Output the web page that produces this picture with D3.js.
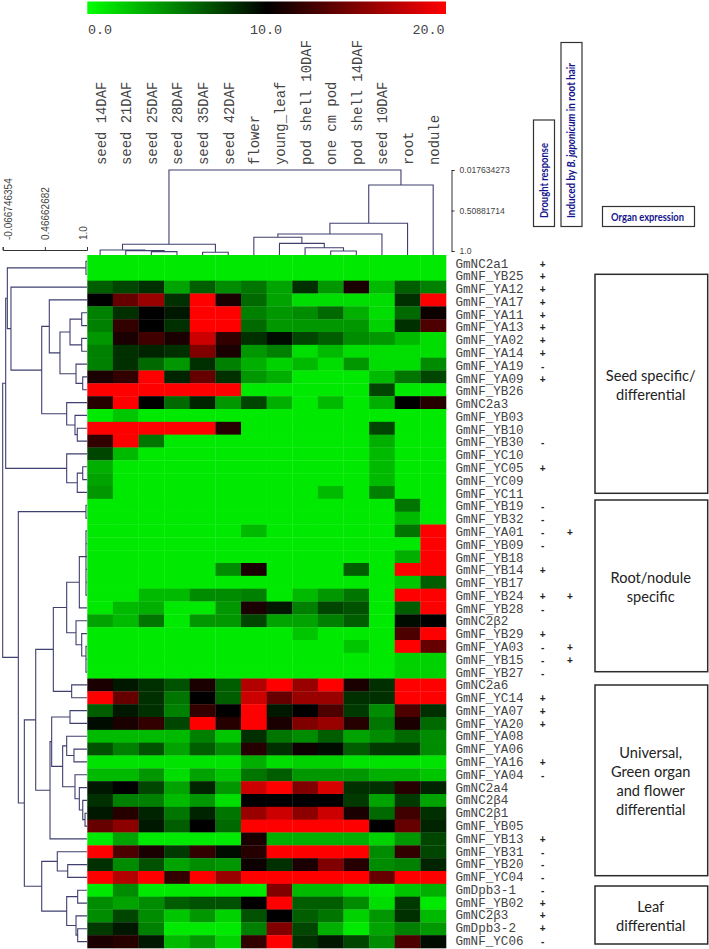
<!DOCTYPE html>
<html>
<head>
<meta charset="utf-8">
<style>
	html, body { margin: 0; padding: 0; background: #fff; }
	svg { display: block; }
	.mono { font-family: "Liberation Mono", monospace; fill: #444; }
	.sans { font-family: "Liberation Sans", sans-serif; fill: #444; }
	.tree { fill: none; stroke: #3f3f70; stroke-width: 1.1; }
	.axis path, .axis line { stroke: #333; fill: none; }
</style>
<script src="https://cdn.jsdelivr.net/npm/d3@7"></script>
</head>
<body>
<div id="chart"></div>
<script>
var colNames = ["seed 14DAF", "seed 21DAF", "seed 25DAF", "seed 28DAF", "seed 35DAF", "seed 42DAF", "flower",
	"young_leaf", "pod shell 10DAF", "one cm pod", "pod shell 14DAF", "seed 10DAF", "root", "nodule"];

var rowNames = ["GmNC2a1", "GmNF_YB25", "GmNF_YA12", "GmNF_YA17", "GmNF_YA11", "GmNF_YA13", "GmNF_YA02", "GmNF_YA14",
	"GmNF_YA19", "GmNF_YA09", "GmNF_YB26", "GmNC2a3", "GmNF_YB03", "GmNF_YB10", "GmNF_YB30", "GmNF_YC10", "GmNF_YC05",
	"GmNF_YC09", "GmNF_YC11", "GmNF_YB19", "GmNF_YB32", "GmNF_YA01", "GmNF_YB09", "GmNF_YB18", "GmNF_YB14", "GmNF_YB17",
	"GmNF_YB24", "GmNF_YB28", "GmNC2β2", "GmNF_YB29", "GmNF_YA03", "GmNF_YB15", "GmNF_YB27", "GmNC2a6", "GmNF_YC14",
	"GmNF_YA07", "GmNF_YA20", "GmNF_YA08", "GmNF_YA06", "GmNF_YA16", "GmNF_YA04", "GmNC2a4", "GmNC2β4", "GmNC2β1",
	"GmNF_YB05", "GmNF_YB13", "GmNF_YB31", "GmNF_YB20", "GmNF_YC04", "GmDpb3-1", "GmNF_YB02", "GmNC2β3", "GmDpb3-2", "GmNF_YC06"];

// one line per gene, same order as colNames
var expression = [
	[0,0,0,0,0,0,0,0,0,0,0,0,0,0],
	[0,0,0,0,0,0,0,0,0,0,0,0,0,0],
	[6,7,8,3,6,4,5,3,8,3.5,11,2,6,4.5],
	[10,14,16,8,20,11,5.5,3,0.5,0.5,0.5,0.5,8,20],
	[4.5,8,10,9,20,20,4.5,3.5,4,5.5,2.5,0.5,5.5,10.5],
	[4.5,12,10,8,20,20,5.5,3.5,3.5,3.5,3.5,1,8,13],
	[3.5,11,12.5,11,18,12,8,9.5,7,6,4,3.5,2,0.5],
	[4.5,8,8.5,8,15,11,3.5,4.5,0.5,2,0.5,0.5,0.5,0.5],
	[4.5,8,5.5,3.5,8,4.5,2.5,1,2,0.5,3.5,0.5,0.5,4],
	[11,12,20,8.5,14,8,3.5,2.5,0,0,0,2,5,7],
	[20,20,20,20,20,20,0,0,0,0,0,7,0,0],
	[11.5,20,10,5.5,8.5,3.5,7,2.5,0,2,0,2.5,10,11.5],
	[0,1.5,0,0,0,0,0,0,0,0,0,0,0,0],
	[20,20,20,20,20,11.5,0,0,0,0,0,7,0,0],
	[12,20,5,0,0,0,0,0,0,0,0,2.5,0,0],
	[7,2,0,0,0,0,0,0,0,0,0,2,0,0],
	[2.5,0,0,0,0,0,0,0,0,0,0,2,0,0],
	[3,0,0,0,0,0,0,0,0,0,0,2,0,0],
	[3.5,0,0,0,0,0,0,0,0,2,0,4.5,0,0],
	[0,0,0,0,0,0,0,0,0,0,0,0,5,0],
	[0,0,0,0,0,0,0,0,0,0,0,0,2,0],
	[0,0,0,0,0,0,2,0,0,0,0,0,5,20],
	[0,0,0,0,0,0,0,0,0,0,0,0,0,20],
	[0,0,0,0,0,0,0,0,0,0,0,0,2.5,20],
	[0,0,0,0,0,4,11,0,0,0,6,0,20,20],
	[0,0,0,0,0,0,0,0,0,0,0,0,1.5,6],
	[0,0,2,2,4,4,4.5,0,2,3.5,5,0,20,20],
	[0,2,2.5,0,0,3.5,11,9,4.5,7,6.5,0,6,20],
	[3,2,5,0,3.5,3.5,7,3,3,4.5,6,0,9.5,10],
	[0,0,0,0,0,0,0,0,1.5,0,0,0,13,20],
	[0,0,0,0,0,0,0,0,0,0,1.5,0,20,14],
	[0,0,0,0,0,0,0,0,0,0,0,0,1,1],
	[0,0,0,0,0,0,0,0,0,0,0,0,1,1],
	[11,9,8,6.5,11,6,17,20,16,20,11,8,20,20],
	[20,14,8,5,10,6,18,14,16,16,8,8,20,20],
	[6,9,8,4.5,12,10,20,9,10,13,7.5,4,13,8],
	[9.5,11,12,7,20,11.5,20,11,15,16,11.5,5,11,5.5],
	[2,2,2,2,4.5,1.5,8,5,4,6,3,4,5.5,4],
	[6.5,4.5,6.5,3,6,4,11.5,8,10.5,9.5,6,7.5,7.5,4],
	[0.3,0.3,0.3,0.3,0.3,0.3,2.5,0.5,1,1,0.3,0.3,0.3,0.3],
	[2,2,3.5,0.5,3,1.5,5,6,3.5,3.5,3.5,2.5,2.5,1.5],
	[9,10,7,3,8.5,3.5,18,20,15,18.5,8,8,11.5,8.5],
	[8,4.5,4.5,2,3.5,0.5,10,10,10,10,7.5,3,7.5,3],
	[9,11.5,8.5,5,8.5,5,16,18,15.5,18,11,5.5,12.5,8],
	[14,15.5,9,6,10,5.5,20,20,20,20,20,10,14,8.5],
	[0,3,0,0,0,0,11,2.5,2.5,2.5,2.5,1,3.5,7],
	[20,13,11,7.5,12,9.5,11.5,20,20,20,20,4,12,7],
	[8,4,6.5,3,4,3.5,10.5,8,11,15,11.5,4,4.5,8.5],
	[20,17,20,12,20,16,20,20,20,20,20,14,20,20],
	[0,4,0,0,0,0,0,15,2,2,0.5,0,1.5,2.5],
	[4,3,4,6,6.5,6.5,10,20,6,6,4,0.5,7.5,0],
	[4,7,4,1.5,3.5,1,6.5,10,6,5,1,3.5,8,2],
	[7.5,9,4.5,0,0,0,4.5,15,7,2.5,0,3,4.5,3.5],
	[11,11.5,9,2,3.5,1,12,20,8,9,7,4,13,9.5]
];

var droughtMarks = ["+","+","+","+","+","+","+","+","-","+","","","","","-","","+","","","-","-","-","-","","+","","+","-","",
	"+","-","-","-","","+","+","+","","","+","-","","","","","+","-","-","-","-","+","+","+","-"];
var inducedRows = ["GmNF_YA01", "GmNF_YB24", "GmNF_YA03", "GmNF_YB15"];

var colorStops = [0, 10, 20];
var colorTicks = ["0.0", "10.0", "20.0"];

// trees: [distance, left, right], a plain number is a leaf index
var colTree = [0.018,
	[0.919, [0.988, 0, [0.996, 1, [1.008, 2, 3]]], [1.016, 4, 5]],
	[0.2, [0.664, [0.794, [0.834, 6, [0.907, 7, [0.96, 8, [1.0, 9, 10]]]], 11], 12], 13]];

var rowTree = [-0.067,
	[-0.029,
		[-0.008, [0.987, 0, 1], [0.038, 2, [0.427,
			[0.523, 3, [0.658, [0.785, [0.933, 4, 5], [0.933, 6, 7]], [0.861, 8, [0.946, 9, 10]]]],
			[0.743, 11, [0.848, 12, [0.877, 13, 14]]]]]],
		[0.743, 15, [0.877, [0.946, 16, 17], 18]]],
	[0.131, [0.987, 19, 20],
		[0.207,
			[0.351,
				[0.574,
					[0.743, [0.903, [0.987, [0.987, 21, 22], [0.987, [0.987, 23, 24], [0.987, 25, 26]]], 27],
						[0.861, 28, [0.933, 29, [0.987, 30, [0.987, 31, 32]]]]],
					[0.806, 33, 34]],
				[0.532,
					[0.553, [0.785, 35, 36],
						[0.692, [0.743, 37, [0.835, 38, 39]], [0.848, 40, [0.903, 41, [0.946, 42, [0.975, 43, 44]]]]]],
					45]],
			[0.427,
				[0.624, 46, [0.756, 47, 48]],
				[0.743, [0.882, 49, 50], [0.861, 51, [0.882, 52, 53]]]]]]];

var organLabels = [["Seed specific/", "differential"], ["Root/nodule", "specific"],
	["Universal,", "Green organ", "and flower", "differential"], ["Leaf", "differential"]];

var colDistTicks = [0.017634273, 0.50881714, 1.0];
var rowDistTicks = [-0.066746354, 0.46662682, 1.0];

var width = 709, height = 949;
var heat = {left: 87.3, right: 446, top: 255, bottom: 948};

var svg = d3.select("#chart").append("svg")
	.attr("width", width)
	.attr("height", height)
	.attr("viewBox", "0 0 " + width + " " + height);

var x = d3.scaleBand().domain(d3.range(colNames.length)).range([heat.left, heat.right]);
var y = d3.scaleBand().domain(d3.range(rowNames.length)).range([heat.top, heat.bottom]);
var labelY = d3.scalePoint().domain(d3.range(rowNames.length)).range([267.5, 945]);
var color = d3.scaleLinear().domain(colorStops).range(["#00e900", "#000000", "#ff0000"]);

// color bar
var defs = svg.append("defs");
var grad = defs.append("linearGradient").attr("id", "barGrad");
grad.selectAll("stop")
	.data(colorStops)
	.enter().append("stop")
		.attr("offset", function(d) { return (d / 20 * 100) + "%"; })
		.attr("stop-color", function(d) { return d === 0 ? "#00ff00" : color(d); });

var barScale = d3.scaleLinear().domain([0, 20]).range([heat.left, heat.right]);
svg.append("rect")
	.attr("x", barScale(0))
	.attr("y", 1.5)
	.attr("width", barScale(20) - barScale(0))
	.attr("height", 12.5)
	.attr("fill", "url(#barGrad)");

svg.selectAll(".barTick")
	.data(colorTicks)
	.enter().append("text")
		.attr("class", "mono")
		.attr("x", function(d, i) { return [88, 250, 412.5][i]; })
		.attr("y", 33.5)
		.style("font-size", "13.4px")
		.text(function(d) { return d; });

// heat cells
var rows = svg.append("g").selectAll("g")
	.data(expression)
	.enter().append("g")
		.attr("transform", function(d, i) { return "translate(0," + y(i) + ")"; });

rows.selectAll("rect")
	.data(function(d) { return d; })
	.enter().append("rect")
		.attr("x", function(d, i) { return x(i); })
		.attr("width", x.bandwidth() + 0.3)
		.attr("height", y.bandwidth() + 0.3)
		.attr("fill", function(d) { return color(d); });

// column names
svg.selectAll(".colName")
	.data(colNames)
	.enter().append("text")
		.attr("class", "mono")
		.attr("transform", function(d, i) { return "translate(" + (x(i) + x.bandwidth() / 2 + 5.5) + ",165) rotate(-90)"; })
		.style("font-size", "13.9px")
		.text(function(d) { return d; });

// row names and +/- columns
svg.selectAll(".rowName")
	.data(rowNames)
	.enter().append("text")
		.attr("class", "mono")
		.attr("x", 455.5)
		.attr("y", function(d, i) { return labelY(i); })
		.style("font-size", "12.6px")
		.text(function(d) { return d; });

svg.selectAll(".drought")
	.data(droughtMarks)
	.enter().append("text")
		.attr("class", "sans")
		.attr("x", 542.7)
		.attr("y", function(d, i) { return labelY(i); })
		.attr("text-anchor", "middle")
		.style("font-size", "10px")
		.style("font-weight", "bold")
		.style("fill", "#222")
		.text(function(d) { return d; });

svg.selectAll(".induced")
	.data(inducedRows)
	.enter().append("text")
		.attr("class", "sans")
		.attr("x", 570)
		.attr("y", function(d) { return labelY(rowNames.indexOf(d)); })
		.attr("text-anchor", "middle")
		.style("font-size", "10px")
		.style("font-weight", "bold")
		.style("fill", "#222")
		.text("+");

// dendrograms
var colDist = d3.scaleLinear().domain([colDistTicks[0], 1]).range([170, 251]);
var rowDist = d3.scaleLinear().domain([rowDistTicks[0], 1]).range([2.7, 87]);

function treeChildren(d) {
	return Array.isArray(d) ? d.slice(1) : null;
}

function drawTree(tree, leafPos, dist, leafDist, horizontal) {
	var root = d3.hierarchy(tree, treeChildren);
	var path = d3.path();
	function point(a, b) {
		return horizontal ? [b, a] : [a, b];
	}
	root.eachAfter(function(n) {
		if (n.children) {
			n.pos = (n.children[0].pos + n.children[1].pos) / 2;
			n.h = dist(n.data[0]);
		} else {
			n.pos = leafPos(n.data);
			n.h = dist(leafDist);
		}
	});
	root.each(function(n) {
		if (!n.children) return;
		var a = n.children[0], b = n.children[1];
		var p = point(a.pos, a.h);
		path.moveTo(p[0], p[1]);
		p = point(a.pos, n.h);
		path.lineTo(p[0], p[1]);
		p = point(b.pos, n.h);
		path.lineTo(p[0], p[1]);
		p = point(b.pos, b.h);
		path.lineTo(p[0], p[1]);
	});
	svg.append("path").attr("class", "tree").attr("d", path.toString());
	return root;
}

drawTree(colTree, function(i) { return x(i) + x.bandwidth() / 2; }, colDist, 1.05, false);
drawTree(rowTree, function(i) { return y(i) + y.bandwidth() / 2; }, rowDist, 1.0, true);

// distance axes
svg.append("g")
	.attr("class", "axis")
	.attr("transform", "translate(451.5,0)")
	.call(d3.axisRight(colDist).tickValues(colDistTicks).tickSize(3).tickFormat(function(d) { return String(d === 1 ? "1.0" : d); }))
	.call(function(g) {
		g.selectAll("text").attr("class", "sans").attr("x", 8).style("font-size", "8.6px");
	});

svg.append("g")
	.attr("class", "axis")
	.attr("transform", "translate(0,250)")
	.call(d3.axisTop(rowDist).tickValues(rowDistTicks).tickSize(3).tickFormat(function(d) { return String(d === 1 ? "1.0" : d); }))
	.call(function(g) {
		g.selectAll("text")
			.attr("class", "sans")
			.attr("transform", "rotate(-90)")
			.attr("x", 10)
			.attr("y", function(d, i) { return [8.3, 3.5, -0.5][i]; })
			.attr("dy", 0)
			.attr("text-anchor", "start")
			.style("font-size", "10px");
	});

// header boxes
var headFont = "Lato, sans-serif", headColor = "#14148c";

function headBox(bx, by, bw, bh) {
	svg.append("rect")
		.attr("x", bx).attr("y", by).attr("width", bw).attr("height", bh)
		.attr("fill", "#fff").attr("stroke", "#333").attr("stroke-width", 1.2);
}

function headText(sel, len) {
	return sel.attr("textLength", len)
		.attr("lengthAdjust", "spacingAndGlyphs")
		.style("font-family", headFont)
		.style("font-size", "11px")
		.style("font-weight", "bold")
		.style("fill", headColor);
}

headBox(533.5, 120, 21, 106.5);
headBox(561, 42.5, 21, 184);
headBox(602.5, 206.5, 92, 20);

headText(svg.append("text"), 75)
	.attr("transform", "translate(547.8,218) rotate(-90)")
	.text("Drought response");

var induced = headText(svg.append("text"), 155)
	.attr("transform", "translate(575.3,218) rotate(-90)");
induced.append("tspan").text("Induced by ");
induced.append("tspan").style("font-style", "italic").text("B. japonicum");
induced.append("tspan").text(" in root hair");

headText(svg.append("text"), 73)
	.attr("x", 611)
	.attr("y", 220.5)
	.text("Organ expression");

// organ expression boxes
var organBoxes = [[274.3, 493.3, 375], [500, 671.7, 577], [685, 875.7, 752], [886, 944, 906]];

organBoxes.forEach(function(b, i) {
	svg.append("rect")
		.attr("x", 595).attr("y", b[0]).attr("width", 112.7).attr("height", b[1] - b[0])
		.attr("fill", "#fff").attr("stroke", "#2b2b2b").attr("stroke-width", 1.5);
	svg.selectAll(".organ" + i)
		.data(organLabels[i])
		.enter().append("text")
			.attr("x", 650.7)
			.attr("y", function(d, j) { return b[2] + 5.5 + j * 19; })
			.attr("text-anchor", "middle")
			.style("font-family", "Lato, sans-serif")
			.style("font-size", "14.6px")
			.style("fill", "#222")
			.text(function(d) { return d; });
});
</script>
</body>
</html>
